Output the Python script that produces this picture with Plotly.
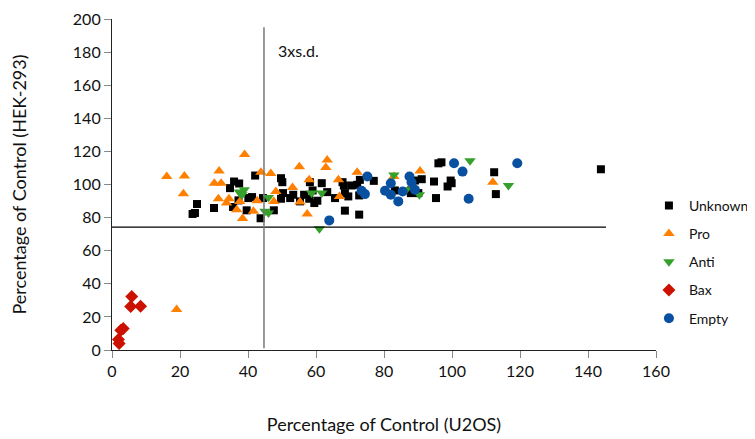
import plotly.graph_objects as go

# Unknown (black squares)
unknown_x = [23.7, 24.4, 25, 30, 35.9, 37.4, 34.7, 37.2, 35.6, 39.6, 40.1, 41.2, 42.1, 43.7, 44.4, 47.6,
             49.7, 50.1, 50.3, 49.7, 52.4, 53.3, 55.3, 56.5, 58.2, 59, 58, 59.5, 60.4, 61.7, 63.3, 65.6,
             67.8, 68.2, 68.5, 69.5, 70.5, 72.1, 72.9, 72.7, 77, 68.5, 72.7,
             83.2, 87.9, 87.9, 89.1, 91.1, 90.1, 94.7, 95.3, 96, 96.9, 99.6, 99.9, 98.7,
             112.4, 112.9, 143.8]
unknown_y = [82.2, 82.8, 88.2, 85.8, 101.8, 100.6, 97.8, 90.4, 86.4, 84.4, 91.8, 92.4, 105.4, 79.6, 91.8, 84.4,
             103.8, 101.4, 94.8, 91.4, 91.8, 93.8, 89.8, 93.8, 101.4, 96.4, 91.4, 88.8, 90.2, 100.8, 95.4, 91.8,
             101.4, 99.4, 94.8, 92.8, 99.4, 99.8, 102.8, 93.4, 102.2, 84.2, 81.8,
             96.4, 96.4, 94.8, 102.4, 103.2, 94.8, 101.8, 91.8, 112.8, 113.4, 102.4, 100.8, 98.8,
             107.4, 94.2, 109.2]

# Pro (orange triangles up)
pro_x = [16.1, 21.3, 21, 39, 31.5, 30.1, 32.1, 31.3, 34.4, 33.7, 36.7, 38.4, 37.6, 41.6, 42.7, 43.8, 46.7,
         48.2, 47.6, 55.1, 63.3, 62.9, 53.1, 58, 66.6, 72.1, 57.4, 55.3, 66.9, 82.9, 90.6, 112, 19]
pro_y = [104.8, 105.2, 94.4, 118.1, 108.2, 100.8, 100.8, 91.4, 91.4, 88.8, 84.8, 79.5, 89.8, 83.8, 90.2, 107.4, 106.6,
         95.8, 89.8, 110.8, 114.8, 110.2, 98.2, 102.8, 102.8, 107.4, 82.2, 89.4, 92.8, 104.8, 108.2, 101.4, 24.4]

# Anti (green triangles down)
anti_x = [37.4, 38.9, 38.2, 46, 45, 46, 61, 58.7, 61.7, 82.9, 86.5, 90.4, 105.3, 116.6]
anti_y = [95.4, 96.8, 93.8, 92.2, 83.8, 82.8, 73.2, 94.8, 94.8, 105.8, 96.8, 93.8, 114.4, 99.4]

# Bax (red diamonds)
bax_x = [1.9, 2.1, 2.6, 3.3, 5.5, 5.8, 8.4]
bax_y = [6.4, 4, 12, 13, 26.3, 32.3, 26.5]

# Empty (blue circles)
empty_x = [63.9, 73.4, 74.4, 75.1, 80.3, 82, 82, 84.2, 85.5, 87.5, 88.1, 89.1, 100.6, 103.1, 104.9, 119.2]
empty_y = [78.3, 96.2, 94.2, 104.8, 96.2, 93.8, 100.8, 89.8, 95.8, 104.8, 101.4, 96.8, 112.8, 107.8, 91.4, 112.8]

# threshold lines (3 x s.d.)
thr_x = 44.7
thr_y = 74.3

FONT = "Lato, sans-serif"

series = [
    ("Unknown", unknown_x, unknown_y, "square", "#000000", 8),
    ("Pro", pro_x, pro_y, "triangle-up", "#FF8000", 10),
    ("Anti", anti_x, anti_y, "triangle-down", "#35A02A", 10),
    ("Bax", bax_x, bax_y, "diamond", "#CC1100", 10),
    ("Empty", empty_x, empty_y, "circle", "#0A50A0", 10),
]

fig = go.Figure()
for i, (name, xs, ys, sym, col, sz) in enumerate(series):
    fig.add_trace(go.Scatter(
        x=xs, y=ys, mode="markers", name=name, legendgroup=str(i),
        marker=dict(symbol=sym, color=col, size=sz, line=dict(width=0)),
        cliponaxis=False,
    ))

fig.add_shape(type="line", x0=0, x1=145.3, y0=thr_y, y1=thr_y, xref="x", yref="y",
              line=dict(color="#000000", width=1.2))
fig.add_shape(type="line", x0=thr_x, x1=thr_x, y0=1, y1=195, xref="x", yref="y",
              line=dict(color="#777777", width=1.5))
fig.add_annotation(x=48.3, y=181, xref="x", yref="y", text="3xs.d.", showarrow=False,
                   xanchor="left", yanchor="middle", font=dict(family=FONT, size=16, color="#111"))

axis_common = dict(
    showgrid=False, zeroline=False, showline=True, linecolor="#222", linewidth=1.2,
    ticks="outside", ticklen=7, tickcolor="#888", tickwidth=1.2,
    tickfont=dict(family=FONT, size=16, color="#111"), automargin=False,
    ticklabeloverflow="allow",
)
fig.update_xaxes(range=[0, 160], dtick=20, title=dict(text="Percentage of Control (U2OS)",
                 font=dict(family=FONT, size=18, color="#111"), standoff=39), **axis_common)
fig.update_yaxes(range=[0, 200], dtick=20, title=dict(text="Percentage of Control (HEK-293)",
                 font=dict(family=FONT, size=18, color="#111"), standoff=50), **axis_common)

fig.update_layout(
    width=747, height=431,
    margin=dict(l=104, r=99, t=11, b=89, autoexpand=False),
    plot_bgcolor="white", paper_bgcolor="white",
    font=dict(family=FONT, color="#111"),
    legend=dict(x=0.987, y=0.484, xanchor="left", yanchor="top", tracegroupgap=7,
                font=dict(family=FONT, size=14, color="#111"), bgcolor="rgba(0,0,0,0)"),
)

fig.write_html("out.html")
